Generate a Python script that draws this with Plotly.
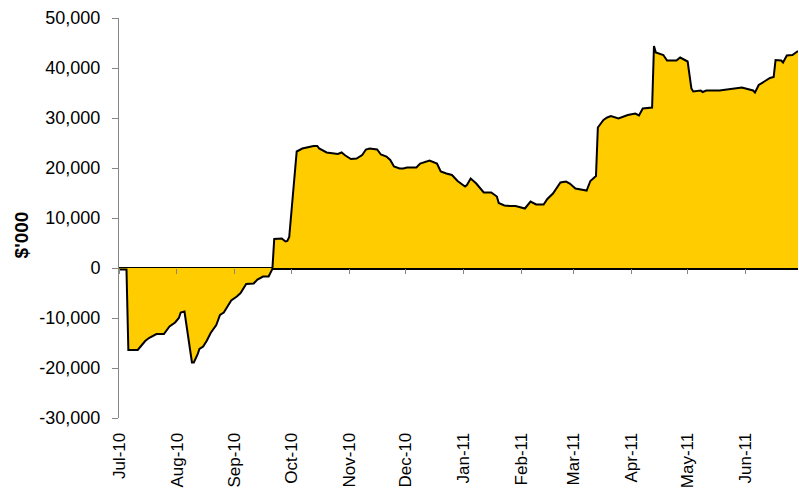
import plotly.graph_objects as go

# Cumulative value ($'000)
dates = [
    "2010-07-01", "2010-07-05", "2010-07-06", "2010-07-11", "2010-07-13", "2010-07-15",
    "2010-07-17", "2010-07-21", "2010-07-25", "2010-07-28", "2010-07-31", "2010-08-02",
    "2010-08-03", "2010-08-05", "2010-08-09", "2010-08-10", "2010-08-12", "2010-08-13",
    "2010-08-15", "2010-08-17", "2010-08-19", "2010-08-22", "2010-08-24", "2010-08-26",
    "2010-08-28", "2010-08-30", "2010-09-02", "2010-09-04", "2010-09-07", "2010-09-11",
    "2010-09-13", "2010-09-16", "2010-09-19", "2010-09-21", "2010-09-22", "2010-09-26",
    "2010-09-28", "2010-09-29", "2010-09-30", "2010-10-04", "2010-10-07", "2010-10-13",
    "2010-10-15", "2010-10-16", "2010-10-20", "2010-10-23", "2010-10-26", "2010-10-28",
    "2010-10-30", "2010-11-02", "2010-11-05", "2010-11-08", "2010-11-10", "2010-11-12",
    "2010-11-16", "2010-11-18", "2010-11-21", "2010-11-23", "2010-11-25", "2010-11-28",
    "2010-11-30", "2010-12-02", "2010-12-07", "2010-12-09", "2010-12-14", "2010-12-18",
    "2010-12-20", "2010-12-23", "2010-12-26", "2010-12-29", "2011-01-02", "2011-01-03",
    "2011-01-05", "2011-01-08", "2011-01-12", "2011-01-16", "2011-01-19", "2011-01-20",
    "2011-01-23", "2011-01-26", "2011-01-29", "2011-01-31", "2011-02-03", "2011-02-06",
    "2011-02-09", "2011-02-13", "2011-02-15", "2011-02-18", "2011-02-21", "2011-02-22",
    "2011-02-25", "2011-02-27", "2011-03-02", "2011-03-08", "2011-03-10", "2011-03-13",
    "2011-03-14", "2011-03-17", "2011-03-19", "2011-03-21", "2011-03-25", "2011-03-28",
    "2011-03-30", "2011-04-03", "2011-04-05", "2011-04-07", "2011-04-10", "2011-04-12",
    "2011-04-13", "2011-04-14", "2011-04-18", "2011-04-20", "2011-04-25", "2011-04-27",
    "2011-05-01", "2011-05-03", "2011-05-04", "2011-05-08", "2011-05-09", "2011-05-11",
    "2011-05-18", "2011-05-25", "2011-05-30", "2011-06-02", "2011-06-05", "2011-06-06",
    "2011-06-08", "2011-06-11", "2011-06-14", "2011-06-16", "2011-06-17", "2011-06-20",
    "2011-06-21", "2011-06-23", "2011-06-26", "2011-06-29",
]
values = [
    -300, -300, -16400, -16400, -15500, -14600,
    -14000, -13200, -13200, -11700, -10900, -10000,
    -8900, -8700, -18900, -18900, -17300, -16200,
    -15700, -14500, -13000, -11400, -9400, -8900,
    -7700, -6500, -5700, -5000, -3200, -3100,
    -2300, -1700, -1700, -200, 5800, 5900,
    5300, 5400, 6200, 23300, 23900, 24400,
    24400, 23900, 23100, 23000, 22800, 23100,
    22500, 21800, 21900, 22600, 23700, 23900,
    23700, 22700, 22300, 21600, 20300, 19900,
    19900, 20100, 20100, 20900, 21500, 20900,
    19300, 18900, 18600, 17400, 16300, 16600,
    17900, 16900, 15100, 15100, 14300, 13000,
    12500, 12400, 12400, 12200, 11900, 13300,
    12700, 12700, 13800, 14900, 16600, 17100,
    17300, 16900, 15900, 15500, 17400, 18400,
    28100, 29600, 30100, 30400, 29900, 30300,
    30600, 30900, 30500, 31900, 32100, 32100,
    44400, 43100, 42600, 41500, 41500, 42100,
    41300, 35900, 35300, 35500, 35200, 35500,
    35500, 35800, 36100, 35800, 35500, 35100,
    36600, 37300, 38000, 38200, 41600, 41500,
    41100, 42500, 42600, 43400,
]

y_ticks = [-30000, -20000, -10000, 0, 10000, 20000, 30000, 40000, 50000]
y_tick_labels = [f"{v:,}" for v in y_ticks]   # hyphen-minus, as in the reference
x_range = ["2010-07-01", "2011-06-29"]
y_range = [-30000, 50000]
y_title = "$'000"

FONT = "Liberation Sans, Arial, sans-serif"
GREY = "#868686"

fig = go.Figure()
fig.add_trace(go.Scatter(
    x=dates, y=values, mode="lines", fill="tozeroy",
    fillcolor="#FFCC00", line=dict(color="black", width=2),
    hoverinfo="x+y", showlegend=False,
))
# invisible trace for secondary x-axis (ticks on the zero line)
fig.add_trace(go.Scatter(x=[dates[0]], y=[0], xaxis="x2", mode="markers",
                         marker=dict(opacity=0), showlegend=False, hoverinfo="skip"))

zero_pos = (0 - y_range[0]) / (y_range[1] - y_range[0])

fig.update_layout(
    width=799, height=492,
    margin=dict(l=119, r=1, t=18, b=74),
    paper_bgcolor="white", plot_bgcolor="white",
    font=dict(family=FONT, size=17, color="black"),
    xaxis=dict(
        type="date", range=x_range, automargin=False,
        tick0="2010-07-01", dtick="M1", tickformat="%b-%y",
        tickangle=-90, ticks="outside", ticklen=7, tickcolor="rgba(0,0,0,0)",
        showline=False, showgrid=False, zeroline=False,
        tickfont=dict(family=FONT, size=17),
    ),
    xaxis2=dict(
        type="date", matches="x", overlaying="x", anchor="free", position=zero_pos,
        tick0="2010-07-01", dtick="M1", automargin=False,
        ticks="outside", ticklen=5, tickcolor=GREY, tickwidth=1,
        showticklabels=False, showline=False, showgrid=False, zeroline=False,
        layer="above traces",
    ),
    yaxis=dict(
        range=y_range, tickvals=y_ticks, ticktext=y_tick_labels, automargin=False,
        ticks="outside", ticklen=6, tickcolor=GREY, ticklabelstandoff=8,
        showline=True, linecolor=GREY, linewidth=1,
        showgrid=False, zeroline=True, zerolinecolor="black", zerolinewidth=2.5,
        layer="above traces",
        tickfont=dict(family=FONT, size=18),
    ),
    annotations=[dict(
        text="<b>" + y_title + "</b>", textangle=-90,
        xref="paper", yref="paper", x=-0.144, y=0.457,
        xanchor="center", yanchor="middle", showarrow=False,
        font=dict(family=FONT, size=19, color="black"),
    )],
)

fig.write_html(
    "out.html",
    config={"displayModeBar": False},
    post_script="document.body.style.margin='0';document.body.style.overflow='hidden';",
)
